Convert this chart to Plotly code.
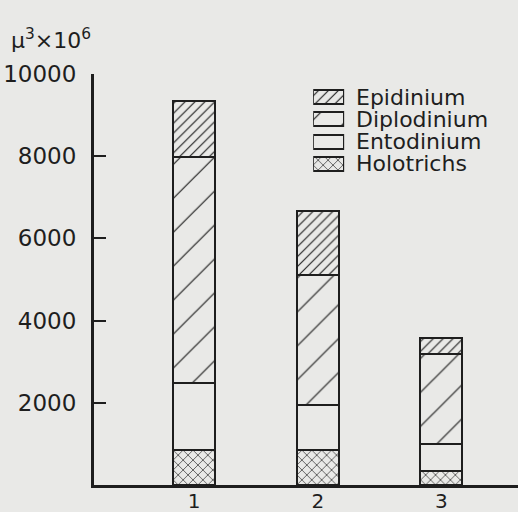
import plotly.graph_objects as go

categories = [1, 2, 3]
tick_labels = ["1", "2", "3"]
holotrichs = [850, 850, 340]
entodinium = [1630, 1100, 660]
diplodinium = [5500, 3160, 2190]
epidinium = [1360, 1560, 390]
y_ticks = [2000, 4000, 6000, 8000, 10000]
y_tick_text = ["2000", "4000", "6000", "8000", "10000"]
series_names = ["Holotrichs", "Entodinium", "Diplodinium", "Epidinium"]

BG = "#e9e9e7"
INK = "#1e1e1e"
FONT = "DejaVu Sans"

styles = {
    "Holotrichs": ("x", 7, 0.18),
    "Entodinium": ("", 8, 0.1),
    "Diplodinium": ("/", 24, 0.05),
    "Epidinium": ("/", 7, 0.16),
}

def marker(name):
    shape, size, sol = styles[name]
    pat = dict(shape=shape, fgcolor=INK, bgcolor=BG, size=size, solidity=sol, fillmode="replace")
    return dict(color=BG, line=dict(color=INK, width=2), pattern=pat)

fig = go.Figure()
values = {"Holotrichs": holotrichs, "Entodinium": entodinium,
          "Diplodinium": diplodinium, "Epidinium": epidinium}
for name in series_names:
    fig.add_trace(go.Bar(x=categories, y=values[name], name=name, width=0.34,
                         marker=marker(name), showlegend=False))

# legend drawn as a small inset of swatch bars
legend_order = ["Epidinium", "Diplodinium", "Entodinium", "Holotrichs"]
for i, name in enumerate(legend_order):
    fig.add_trace(go.Bar(x=[1], y=[i], orientation="h", width=0.62, name=name,
                         marker=marker(name), xaxis="x2", yaxis="y2",
                         showlegend=False, hoverinfo="skip"))

annotations = [dict(text="μ<sup>3</sup>×10<sup>6</sup>", xref="paper", yref="paper",
                    x=-0.2, y=1.085, xanchor="left", yanchor="middle",
                    showarrow=False, font=dict(size=22))]
for i, name in enumerate(legend_order):
    annotations.append(dict(text=name, xref="x2 domain", yref="y2", x=1.33, y=i,
                            xanchor="left", yanchor="middle", showarrow=False,
                            font=dict(size=22)))

fig.update_layout(
    barmode="stack",
    width=518, height=512,
    margin=dict(l=94, r=0, t=74, b=27),
    paper_bgcolor=BG, plot_bgcolor=BG,
    font=dict(family=FONT, color=INK, size=20),
    showlegend=False,
    xaxis=dict(range=[0.19, 3.62], tickvals=categories, ticktext=tick_labels,
               showline=True, linecolor=INK, linewidth=3, ticks="", showgrid=False,
               zeroline=False, tickfont=dict(size=20), ticklabelstandoff=-4,
               automargin=False),
    yaxis=dict(range=[0, 10000], tickvals=y_ticks, ticktext=y_tick_text, ticks="inside",
               ticklen=12, tickwidth=2, tickcolor=INK, showline=True, linecolor=INK,
               linewidth=3, showgrid=False, zeroline=False, ticklabelstandoff=10,
               tickfont=dict(size=23), automargin=False),
    xaxis2=dict(domain=[0.517, 0.59], range=[0, 1], visible=False, anchor="y2"),
    yaxis2=dict(domain=[0.754, 0.971], range=[3.5, -0.5], visible=False, anchor="x2"),
    annotations=annotations,
)

fig.write_html("out.html", config={"displayModeBar": False},
               post_script="document.body.style.margin='0';document.body.style.background='%s';" % BG)
